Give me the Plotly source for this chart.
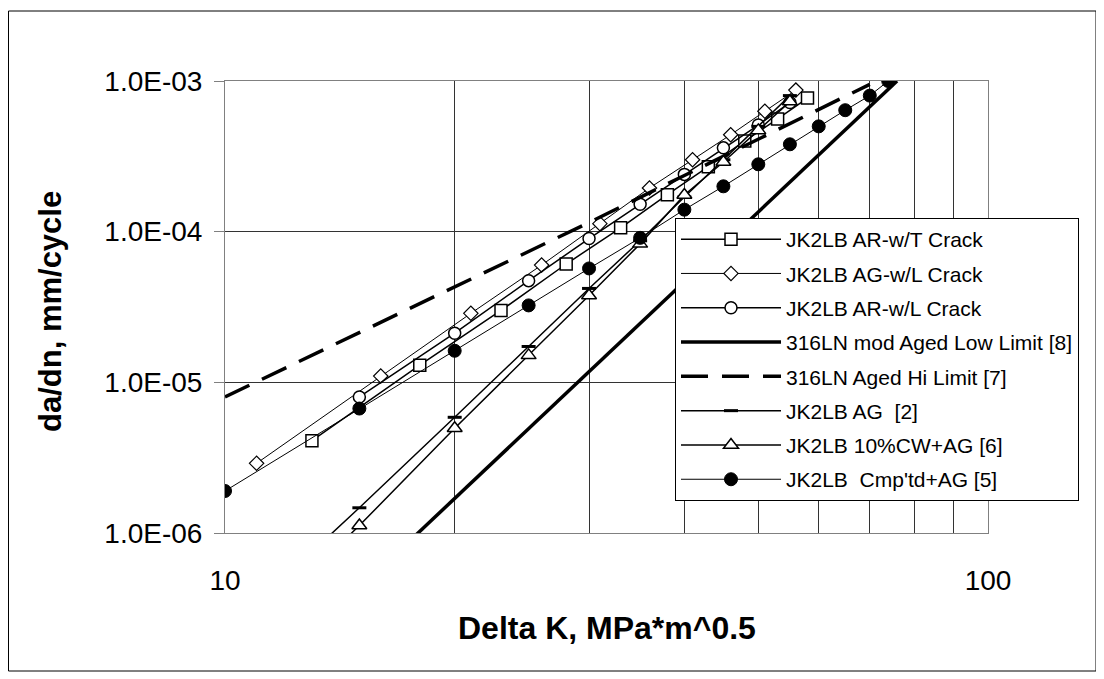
import plotly.graph_objects as go

# ---------------- data ----------------
k_arwt = [13, 18, 23, 28, 33, 38, 43, 48, 53, 58]
v_arwt = [4.1e-6, 1.3e-5, 3.0e-5, 6.1e-5, 1.06e-4, 1.76e-4, 2.7e-4, 4.0e-4, 5.6e-4, 7.7e-4]

k_agwl = [11, 16, 21, 26, 31, 36, 41, 46, 51, 56]
v_agwl = [2.9e-6, 1.1e-5, 2.87e-5, 6.0e-5, 1.13e-4, 1.95e-4, 3.0e-4, 4.4e-4, 6.3e-4, 8.7e-4]

k_arwl = [15, 20, 25, 30, 35, 40, 45, 50, 55]
v_arwl = [8.0e-6, 2.12e-5, 4.73e-5, 9.0e-5, 1.52e-4, 2.4e-4, 3.6e-4, 5.1e-4, 7.2e-4]

k_low = [17, 76]
v_low = [7.8e-7, 1.0e-3]

k_hi = [10, 20, 30, 40, 50, 60, 70]
v_hi = [8.0e-6, 4.3e-5, 1.15e-4, 2.36e-4, 4.1e-4, 6.5e-4, 9.5e-4]

k_ag2 = [13, 15, 20, 25, 30, 35, 40, 45, 50, 55]
v_ag2 = [7.5e-7, 1.47e-6, 5.86e-6, 1.73e-5, 4.2e-5, 8.7e-5, 1.7e-4, 3.0e-4, 5.0e-4, 8.0e-4]

k_cw = [14, 15, 20, 25, 30, 35, 40, 45, 50, 55]
v_cw = [8.0e-7, 1.12e-6, 4.96e-6, 1.51e-5, 3.77e-5, 8.3e-5, 1.75e-4, 2.9e-4, 4.7e-4, 7.3e-4]

k_cmp = [10, 15, 20, 25, 30, 35, 40, 45, 50, 55, 60, 65, 70, 74]
v_cmp = [1.9e-6, 6.7e-6, 1.62e-5, 3.24e-5, 5.7e-5, 9.1e-5, 1.4e-4, 2.0e-4, 2.8e-4, 3.8e-4, 5.0e-4, 6.4e-4, 8.0e-4, 1.0e-3]

names = ["JK2LB AR-w/T Crack", "JK2LB AG-w/L Crack", "JK2LB AR-w/L Crack",
         "316LN mod Aged Low Limit [8]", "316LN Aged Hi Limit [7]", "JK2LB AG  [2]",
         "JK2LB 10%CW+AG [6]", "JK2LB  Cmp'td+AG [5]"]

x_tickvals = [10, 20, 30, 40, 50, 60, 70, 80, 90, 100]
x_ticktext = ["10", "", "", "", "", "", "", "", "", "100"]
y_tickvals = [1e-6, 1e-5, 1e-4, 1e-3]
y_ticktext = ["1.0E-06", "1.0E-05", "1.0E-04", "1.0E-03"]

# ---------------- figure ----------------
FONT = "Liberation Sans, Arial, sans-serif"
L, T, W, H = 217, 73, 763, 452          # plot area in figure pixels
fig = go.Figure()

def px(xp):
    return (xp - L) / W

def py(yp):
    return (T + H - yp) / H

def add(k, v, name, i, lw, sym=None, size=12, fill="white", mlw=1.5, dash="solid"):
    marker = None
    if sym is not None:
        marker = dict(symbol=sym, size=size, color=fill, line=dict(color="black", width=mlw))
    fig.add_trace(go.Scatter(
        x=k, y=v, name=name, mode="lines+markers" if sym else "lines",
        line=dict(color="black", width=lw, dash=dash),
        marker=marker, legendgroup=f"g{i}"))

add(k_arwt, v_arwt, names[0], 0, 1.5, "square", 12)
add(k_agwl, v_agwl, names[1], 1, 1.0, "diamond", 11, mlw=1.2)
add(k_arwl, v_arwl, names[2], 2, 1.5, "circle", 12)
add(k_low, v_low, names[3], 3, 3.5)
add(k_hi, v_hi, names[4], 4, 3.5, dash="27px,14px")
add(k_ag2, v_ag2, names[5], 5, 1.5, "line-ew", 10, fill="black", mlw=3)
add(k_cw, v_cw, names[6], 6, 1.5, "triangle-up", 13)
add(k_cmp, v_cmp, names[7], 7, 1.0, "circle", 13, fill="black", mlw=1)

# outer chart border
fig.add_shape(type="rect", xref="paper", yref="paper",
              x0=px(0.5), x1=px(1088), y0=py(663), y1=py(3),
              line=dict(color="black", width=1), layer="below")

fig.add_annotation(text="<b>da/dn, mm/cycle</b>", xref="paper", yref="paper",
                   x=px(42), y=py(304), xanchor="center", yanchor="middle",
                   textangle=-90, showarrow=False,
                   font=dict(family=FONT, size=31, color="black"))
fig.add_annotation(text="<b>Delta K, MPa*m^0.5</b>", xref="paper", yref="paper",
                   x=0.5, y=py(620), xanchor="center", yanchor="middle", showarrow=False,
                   font=dict(family=FONT, size=32, color="black"))

fig.update_layout(
    width=1104, height=679,
    margin=dict(l=L, r=1104 - L - W, t=T, b=679 - T - H),
    paper_bgcolor="white", plot_bgcolor="white",
    font=dict(family=FONT, color="black"),
    showlegend=True,
    legend=dict(x=px(667), y=py(210), xanchor="left", yanchor="top",
                bgcolor="white", bordercolor="black", borderwidth=1,
                font=dict(family=FONT, size=21, color="black"),
                itemwidth=100, tracegroupgap=4),
    xaxis=dict(type="log", range=[1, 2], tickvals=x_tickvals, ticktext=x_ticktext,
               showgrid=True, gridcolor="#333333", gridwidth=1,
               showline=True, linecolor="#808080", linewidth=1, mirror=True,
               ticks="", tickfont=dict(family=FONT, size=28, color="black"),
               ticklabelstandoff=22, zeroline=False),
    yaxis=dict(type="log", range=[-6, -3], tickvals=y_tickvals, ticktext=y_ticktext,
               showgrid=True, gridcolor="#333333", gridwidth=1,
               showline=True, linecolor="#808080", linewidth=1, mirror=True,
               ticks="outside", ticklen=10, tickcolor="#808080",
               tickfont=dict(family=FONT, size=28, color="black"),
               ticklabelstandoff=6, zeroline=False),
)

fig.write_html("out.html")
